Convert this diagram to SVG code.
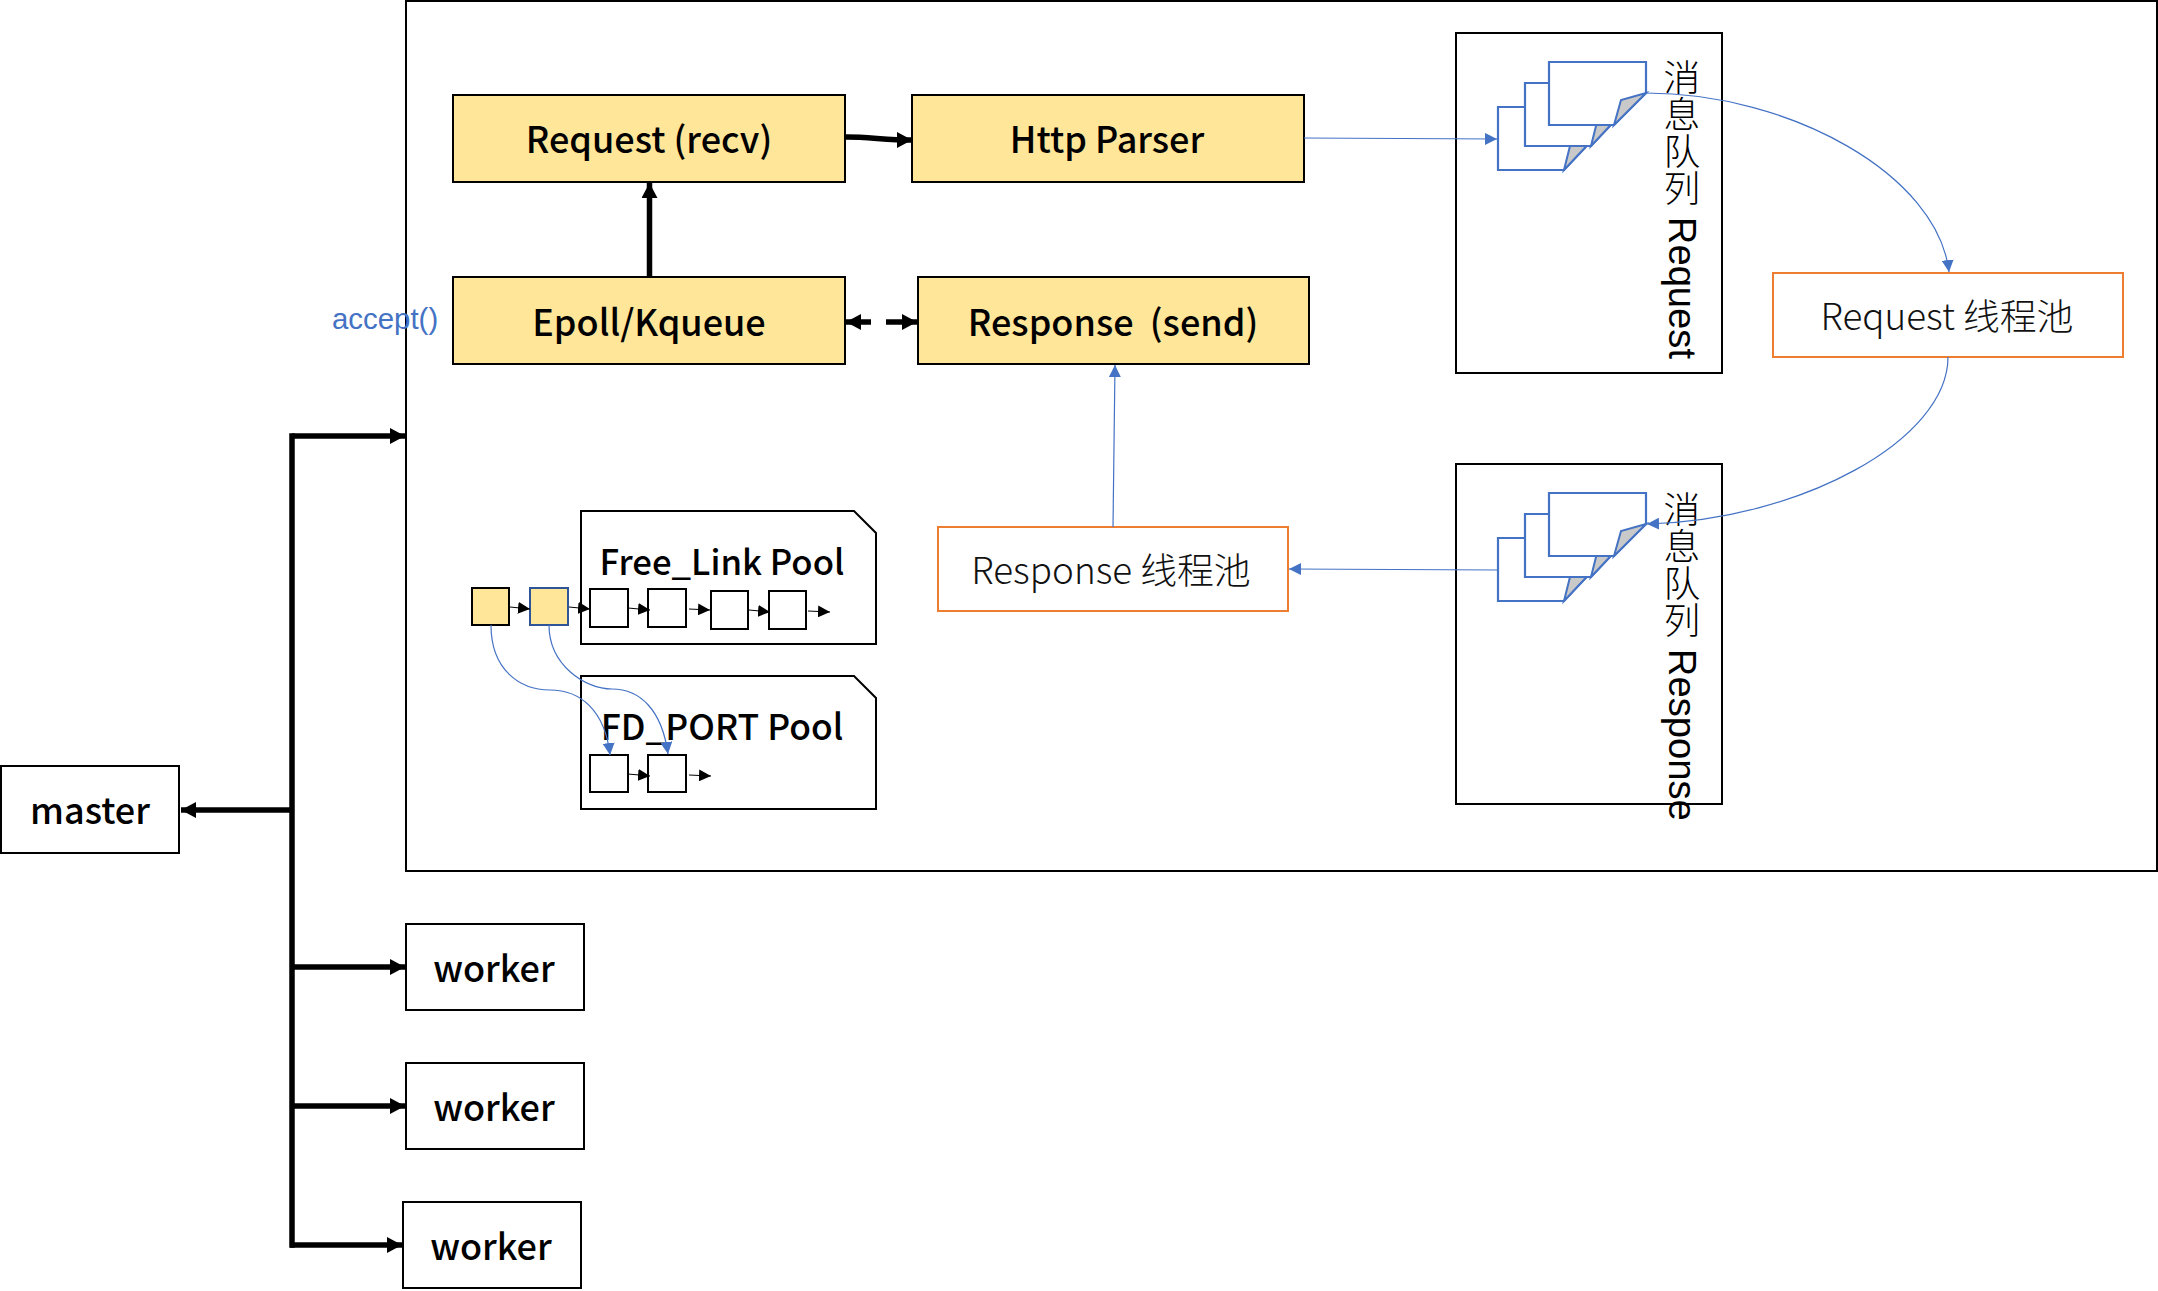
<svg xmlns="http://www.w3.org/2000/svg" width="2158" height="1291" viewBox="0 0 2158 1291">
<style>
.box{fill:#fff;stroke:#000;stroke-width:2}
.yel{fill:#FFE699;stroke:#000;stroke-width:2}
.org{fill:#fff;stroke:#ED7D31;stroke-width:2}
.doc{fill:#fff;stroke:#4472C4;stroke-width:2.2}
.fold{fill:#C9C9C9;stroke:#4472C4;stroke-width:2}
.t{font-family:"Noto Sans CJK SC","Noto Sans",sans-serif;font-weight:500;fill:#000;text-anchor:middle}
.l{font-size:36px}
.p{font-family:"Noto Sans CJK SC","Noto Sans",sans-serif;font-weight:300;font-size:36.8px;fill:#111;text-anchor:middle}
.v{font-family:"Liberation Sans","Noto Sans CJK SC",sans-serif;font-size:38.2px;fill:#000;writing-mode:vertical-rl}
.c{font-family:"Noto Sans CJK SC",sans-serif;font-size:36.8px;font-weight:300}
.thick{fill:none;stroke:#000;stroke-width:5.5}
.thin{fill:none;stroke:#000;stroke-width:1}
.blue{fill:none;stroke:#4472C4;stroke-width:1.2}
</style>
<defs>
<marker id="hb" markerUnits="userSpaceOnUse" markerWidth="15" markerHeight="16" refX="15" refY="8" orient="auto-start-reverse"><path d="M0,0L15,8L0,16Z" fill="#000"/></marker>
<marker id="hs" markerUnits="userSpaceOnUse" markerWidth="12" markerHeight="12" refX="12" refY="6" orient="auto"><path d="M0,0L12,6L0,12Z" fill="#000"/></marker>
<marker id="hu" markerUnits="userSpaceOnUse" markerWidth="12" markerHeight="12" refX="12" refY="6" orient="auto"><path d="M0,0L12,6L0,12Z" fill="#4472C4"/></marker>
</defs>
<g id="container"><rect class="box" x="406" y="1" width="1751" height="870"/></g>
<text id="accept" x="332" y="329" font-family="Liberation Sans,sans-serif" font-size="29.4" fill="#4472C4">accept()</text>
<g id="request-recv"><rect class="yel" x="453" y="95" width="392" height="87"/><text class="t l" x="649" y="153">Request (recv)</text></g>
<g id="http-parser"><rect class="yel" x="912" y="95" width="392" height="87"/><text class="t l" x="1107" y="153">Http Parser</text></g>
<g id="epoll"><rect class="yel" x="453" y="277" width="392" height="87"/><text class="t l" x="649" y="336">Epoll/Kqueue</text></g>
<g id="response-send"><rect class="yel" x="918" y="277" width="391" height="87"/><text class="t l" x="1113" y="336" xml:space="preserve">Response  (send)</text></g>
<g id="queue-request">
<rect class="box" x="1456" y="33" width="266" height="340"/>
<path class="doc" d="M1498,107H1595V137L1564,170H1498Z"/><path class="fold" d="M1564,170L1570,146L1595,137Z"/>
<path class="doc" d="M1525,83H1622V113L1591,146H1525Z"/><path class="fold" d="M1591,146L1597,122L1622,113Z"/>
<path class="doc" d="M1549,62H1646V93L1614,125H1549Z"/><path class="fold" d="M1614,125L1621,100L1646,93Z"/>
<text class="v" x="1682" y="59"><tspan class="c">消息队列</tspan> Request</text>
</g>
<g id="queue-response">
<rect class="box" x="1456" y="464" width="266" height="340"/>
<path class="doc" d="M1498,538H1595V568L1564,601H1498Z"/><path class="fold" d="M1564,601L1570,577L1595,568Z"/>
<path class="doc" d="M1525,514H1622V544L1591,577H1525Z"/><path class="fold" d="M1591,577L1597,553L1622,544Z"/>
<path class="doc" d="M1549,493H1646V524L1614,556H1549Z"/><path class="fold" d="M1614,556L1621,531L1646,524Z"/>
<text class="v" x="1682" y="491"><tspan class="c">消息队列</tspan> Response</text>
</g>
<g id="request-pool"><rect class="org" x="1773" y="273" width="350" height="84"/><text class="p" x="1947" y="330">Request 线程池</text></g>
<g id="response-pool"><rect class="org" x="938" y="527" width="350" height="84"/><text class="p" x="1111" y="584">Response 线程池</text></g>
<g id="free-link-pool"><path class="box" d="M581,511H854L876,533V644H581Z"/><text class="t" font-size="34.7" x="722" y="575">Free_Link Pool</text></g>
<g id="fd-port-pool"><path class="box" d="M581,676H854L876,698V809H581Z"/><text class="t" font-size="35.4" x="722" y="740">FD_PORT Pool</text></g>
<g id="slot-a"><rect class="yel" x="472" y="588" width="37" height="37"/></g>
<g id="slot-b"><rect class="yel" style="stroke:#2F5597" x="530" y="588" width="38" height="37"/></g>
<g id="free-1"><rect class="box" x="590" y="589" width="38" height="38"/></g>
<g id="free-2"><rect class="box" x="648" y="589" width="38" height="38"/></g>
<g id="free-3"><rect class="box" x="711" y="591" width="37" height="38"/></g>
<g id="free-4"><rect class="box" x="769" y="591" width="37" height="38"/></g>
<g id="fd-1"><rect class="box" x="590" y="755" width="38" height="37"/></g>
<g id="fd-2"><rect class="box" x="648" y="755" width="38" height="37"/></g>
<g id="master"><rect class="box" x="1" y="766" width="178" height="87"/><text class="t l" x="90" y="824">master</text></g>
<g id="worker-1"><rect class="box" x="406" y="924" width="178" height="86"/><text class="t l" x="494" y="982">worker</text></g>
<g id="worker-2"><rect class="box" x="406" y="1063" width="178" height="86"/><text class="t l" x="494" y="1121">worker</text></g>
<g id="worker-3"><rect class="box" x="403" y="1202" width="178" height="86"/><text class="t l" x="491" y="1260">worker</text></g>
<g id="connectors">
<path class="thick" d="M649.5,277V183" marker-end="url(#hb)"/>
<path class="thick" d="M846,137C870,137 885,140 912,140" marker-end="url(#hb)"/>
<path class="thick" d="M846,322H871" marker-start="url(#hb)"/>
<path class="thick" d="M886,322H917" marker-end="url(#hb)"/>
<path class="thick" d="M292,436V1245" stroke-linecap="square"/>
<path class="thick" d="M292,436H405" marker-end="url(#hb)"/>
<path class="thick" d="M292,810H181" marker-end="url(#hb)"/>
<path class="thick" d="M292,967H405" marker-end="url(#hb)"/>
<path class="thick" d="M292,1106H405" marker-end="url(#hb)"/>
<path class="thick" d="M290,1245H402" marker-end="url(#hb)"/>
<path class="blue" d="M1304,138L1497,139" marker-end="url(#hu)"/>
<path class="blue" d="M1646,93C1790,93 1938,175 1949,272" marker-end="url(#hu)"/>
<path class="blue" d="M1948,357C1948,440 1800,520 1647,524" marker-end="url(#hu)"/>
<path class="blue" d="M1498,570L1289,569" marker-end="url(#hu)"/>
<path class="blue" d="M1113,527L1115,365" marker-end="url(#hu)"/>
<path class="blue" d="M491,625C491,670 520,690 550,690C580,690 605,710 610,755" marker-end="url(#hu)"/>
<path class="blue" d="M549,625C549,665 585,689 612,689C640,689 662,710 668,754" marker-end="url(#hu)"/>
<path class="thin" d="M510,607L530,609" marker-end="url(#hs)"/>
<path class="thin" d="M569,607L590,609" marker-end="url(#hs)"/>
<path class="thin" d="M628,608L650,610" marker-end="url(#hs)"/>
<path class="thin" d="M689,609L710,610" marker-end="url(#hs)"/>
<path class="thin" d="M749,610L770,612" marker-end="url(#hs)"/>
<path class="thin" d="M808,611L830,612" marker-end="url(#hs)"/>
<path class="thin" d="M628,774L650,776" marker-end="url(#hs)"/>
<path class="thin" d="M689,775L711,776" marker-end="url(#hs)"/>
</g>
</svg>
